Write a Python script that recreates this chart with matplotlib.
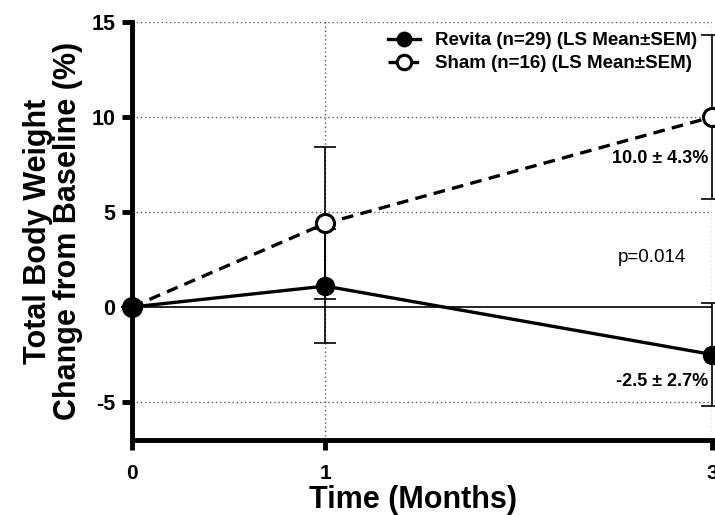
import numpy as np
import matplotlib.pyplot as plt
import matplotlib

matplotlib.rcParams['font.family'] = ['Liberation Sans', 'DejaVu Sans']
matplotlib.rcParams['font.weight'] = 'bold'
matplotlib.rcParams['axes.unicode_minus'] = False

# data
months = [0, 1, 3]
revita_mean = [0.0, 1.1, -2.5]
revita_sem = [0.0, 3.0, 2.7]
sham_mean = [0.0, 4.4, 10.0]
sham_sem = [0.0, 4.0, 4.3]

revita_label = 'Revita (n=29) (LS Mean\u00b1SEM)'
sham_label = 'Sham (n=16) (LS Mean\u00b1SEM)'
revita_note = '-2.5 \u00b1 2.7%'
sham_note = '10.0 \u00b1 4.3%'
p_note = 'p=0.014'

fig = plt.figure(figsize=(7.15, 5.15), dpi=100)
ax = fig.add_axes([132/715, 1-440/515, 580/715, 418/515])

ax.set_xlim(0, 3)
ax.set_ylim(-7, 15)
ax.set_xticks([0, 1, 3])
ax.set_yticks([-5, 0, 5, 10, 15])

# grid dotted, only away from the spines
for gy in [-5, 5, 10, 15]:
    ax.axhline(gy, color='0.35', lw=1.0, ls=(0, (1, 2)), zorder=0)
for gx in [1, 3]:
    ax.axvline(gx, color='0.35', lw=1.0, ls=(0, (1, 2)), zorder=0)
ax.axhline(0, color='black', lw=1.2, zorder=1)

# error bars
ax.errorbar(months, sham_mean, yerr=sham_sem, fmt='none', ecolor='black',
            elinewidth=1.2, capsize=8, capthick=1.2, zorder=2, clip_on=False)
ax.errorbar(months, revita_mean, yerr=revita_sem, fmt='none', ecolor='black',
            elinewidth=1.2, capsize=8, capthick=1.2, zorder=2, clip_on=False)

ax.plot(months, sham_mean, color='black', lw=2.4, ls=(0, (3.5, 2.2)),
        marker='o', ms=13, mfc='white', mec='black', mew=2.2,
        label=sham_label, zorder=3, clip_on=False)
ax.plot(months, revita_mean, color='black', lw=2.4, ls='-',
        marker='o', ms=13, mfc='black', mec='black',
        label=revita_label, zorder=4, clip_on=False)

h, l = ax.get_legend_handles_labels()
leg = ax.legend(h[::-1], l[::-1], loc='upper right', bbox_to_anchor=(0.992, 1.0),
                frameon=False, fontsize=13.5, handlelength=1.7, markerscale=0.8,
                handletextpad=0.8, labelspacing=0.3, borderaxespad=0.15)

ax.text(2.983, 7.8, sham_note, ha='right', va='center', fontsize=13, fontweight='bold')
ax.text(2.983, -3.9, revita_note, ha='right', va='center', fontsize=13, fontweight='bold')
ax.text(2.864, 2.6, p_note, ha='right', va='center', fontsize=13.5, fontweight='normal')

for side in ['top', 'right']:
    ax.spines[side].set_visible(False)
for side in ['left', 'bottom']:
    ax.spines[side].set_linewidth(3.5)
ax.tick_params(width=3.5, length=7, labelsize=15.5, pad=5)
ax.tick_params(axis='x', labelsize=15, pad=10)
for lab in ax.get_xticklabels() + ax.get_yticklabels():
    lab.set_fontweight('bold')

ax.set_xlabel('Time (Months)', fontsize=22, fontweight='bold', labelpad=5)
ax.xaxis.set_label_coords(0.485, -0.107)
ax.xaxis.label.set_va('top')
ax.set_ylabel('Total Body Weight\nChange from Baseline (%)', fontsize=22,
              fontweight='bold', labelpad=6, linespacing=1.0)

fig.savefig('out.png', dpi=100)
